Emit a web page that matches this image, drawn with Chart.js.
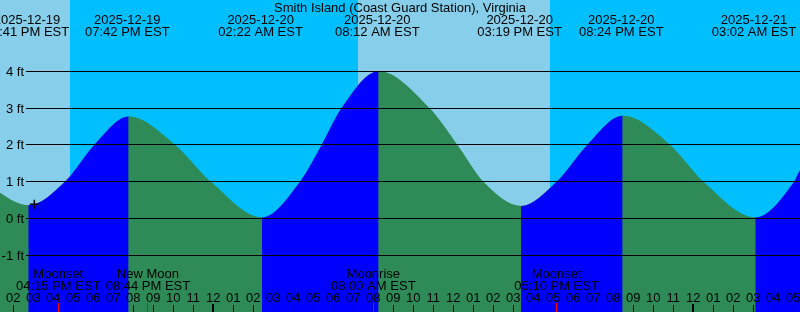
<!DOCTYPE html>
<html>
<head>
<meta charset="utf-8">
<script src="https://cdn.jsdelivr.net/npm/chart.js@4.4.1/dist/chart.umd.min.js"></script>
<style>
  html, body { margin: 0; padding: 0; background: #00bfff; overflow: hidden; }
  canvas { display: block; }
</style>
</head>
<body>
<canvas id="tide" width="800" height="312"></canvas>
<script>
const station = "Smith Island (Coast Guard Station), Virginia";

// tide curve (local time EST, height in ft)
const curveTimes = [
  "2025-12-19 07:30", "2025-12-19 13:20", "2025-12-19 14:45", "2025-12-19 16:35",
  "2025-12-19 18:03", "2025-12-19 19:46", "2025-12-19 22:05", "2025-12-19 23:52",
  "2025-12-20 02:26", "2025-12-20 04:20", "2025-12-20 05:25", "2025-12-20 06:25",
  "2025-12-20 08:16", "2025-12-20 10:48", "2025-12-20 12:12", "2025-12-20 13:30",
  "2025-12-20 15:23", "2025-12-20 17:10", "2025-12-20 18:42", "2025-12-20 20:28",
  "2025-12-20 22:50", "2025-12-21 00:30", "2025-12-21 03:06", "2025-12-21 05:02",
  "2025-12-21 05:20", "2025-12-21 09:00"
];
const curveFeet = [
  3.95, 0.70, 0.36, 1.0,
  2.0, 2.77, 2.0, 1.0,
  0.03, 1.0, 2.0, 3.0,
  4.0, 3.0, 2.0, 1.0,
  0.34, 1.0, 2.0, 2.79,
  2.0, 1.0, 0.03, 1.0,
  1.31, 4.0
];

// high / low labels along the top
const tideDates = ["2025-12-19", "2025-12-19", "2025-12-20", "2025-12-20", "2025-12-20", "2025-12-20", "2025-12-21"];
const tideClock = ["02:41 PM", "07:42 PM", "02:22 AM", "08:12 AM", "03:19 PM", "08:24 PM", "03:02 AM"];

// moon events along the bottom
const moonNames = ["Moonset", "New Moon", "Moonrise", "Moonset"];
const moonDates = ["2025-12-19", "2025-12-19", "2025-12-20", "2025-12-20"];
const moonClock = ["04:15 PM", "08:44 PM", "08:00 AM", "05:10 PM"];

// daylight
const sunrise = ["2025-12-19 07:14", "2025-12-20 07:14"];
const sunset = ["2025-12-19 16:50", "2025-12-20 16:50"];

const nowTime = "2025-12-19 15:03";
const nowFeet = 0.39;

const gridFeet = [-1, 0, 1, 2, 3, 4];

const NIGHT = "#00bfff";
const DAY = "#87ceeb";
const FLOOD = "#0000ff";
const EBB = "#2e8b57";
const FONT = '13px "Liberation Sans", Arial, sans-serif';

const T0 = Date.UTC(2025, 11, 20);
const toH = s => (Date.parse(s.replace(" ", "T") + ":00Z") - T0) / 36e5;
function clockH(date, clock) {
  let [hm, ap] = clock.split(" ");
  let [h, m] = hm.split(":").map(Number);
  if (ap === "PM" && h !== 12) h += 12;
  if (ap === "AM" && h === 12) h = 0;
  return toH(date + " " + String(h).padStart(2, "0") + ":" + String(m).padStart(2, "0"));
}

const X_MIN = -10.665, X_MAX = 29.335;
const Y_MIN = -2.541, Y_MAX = 5.9375;

const decor = {
  id: "decor",
  beforeDatasetsDraw(chart) {
    const { ctx, chartArea: a, scales: { x } } = chart;
    ctx.save();
    ctx.fillStyle = NIGHT;
    ctx.fillRect(a.left, a.top, a.width, a.height);
    ctx.fillStyle = DAY;
    sunrise.forEach((s, i) => {
      const l = Math.round(x.getPixelForValue(toH(s)));
      const r = Math.round(x.getPixelForValue(toH(sunset[i])));
      ctx.fillRect(l, a.top, r - l, a.height);
    });
    ctx.restore();
  },
  afterDatasetsDraw(chart) {
    const { ctx, chartArea: a, scales: { x, y } } = chart;
    ctx.save();
    ctx.font = FONT;
    ctx.fillStyle = "#000";
    ctx.strokeStyle = "#000";
    ctx.lineWidth = 1;

    // depth grid + labels
    gridFeet.forEach(v => {
      const py = Math.floor(y.getPixelForValue(v)) + 0.5;
      ctx.beginPath();
      ctx.moveTo(26, py);
      ctx.lineTo(a.right, py);
      ctx.stroke();
      ctx.textAlign = "right";
      ctx.fillText(v + " ft", 24, py + 4);
    });

    ctx.textAlign = "center";
    ctx.fillText(station, 400, 12);

    tideDates.forEach((d, i) => {
      const px = x.getPixelForValue(clockH(d, tideClock[i]));
      ctx.fillText(d, px, 24);
      ctx.fillText(tideClock[i] + " EST", px, 36);
    });

    moonNames.forEach((n, i) => {
      const px = x.getPixelForValue(clockH(moonDates[i], moonClock[i]));
      ctx.fillText(n, px, 278);
      ctx.fillText(moonClock[i] + " EST", px, 290);
    });

    // hour ticks
    for (let h = Math.ceil(X_MIN); h <= Math.floor(X_MAX); h++) {
      const px = x.getPixelForValue(h);
      const hod = ((h % 24) + 24) % 24;
      const lbl = String(hod % 12 || 12).padStart(2, "0");
      ctx.fillText(lbl, px, 302);
      if (hod === 0) ctx.fillRect(Math.round(px) - 1, 304, 2, 8);
      else ctx.fillRect(Math.floor(px), 305, 1, 7);
    }
    ctx.fillStyle = "#ff0000";
    moonNames.forEach((n, i) => {
      const px = x.getPixelForValue(clockH(moonDates[i], moonClock[i]));
      ctx.fillRect(Math.floor(px), 303, 1, 9);
    });
    ctx.restore();
  }
};

const tidePoints = curveTimes.map((t, i) => ({ x: toH(t), y: curveFeet[i] }));

new Chart(document.getElementById("tide"), {
  type: "line",
  data: {
    datasets: [
      {
        data: [{ x: toH(nowTime), y: nowFeet }],
        showLine: false,
        pointStyle: "cross",
        pointRadius: 4.5,
        pointBorderColor: "#000",
        pointBorderWidth: 1.5,
        order: 0
      },
      {
        data: tidePoints,
        fill: "start",
        backgroundColor: EBB,
        borderColor: "rgba(0,0,0,0)",
        borderWidth: 0,
        pointRadius: 0,
        cubicInterpolationMode: "monotone",
        segment: {
          backgroundColor: c => (c.p1.parsed.y > c.p0.parsed.y ? FLOOD : EBB)
        },
        order: 1
      },
      {
        // plain under-layer so segment joins show no seams
        data: tidePoints,
        fill: "start",
        backgroundColor: EBB,
        borderColor: "rgba(0,0,0,0)",
        borderWidth: 0,
        pointRadius: 0,
        cubicInterpolationMode: "monotone",
        order: 2
      }
    ]
  },
  options: {
    responsive: false,
    animation: false,
    devicePixelRatio: 1,
    events: [],
    layout: { padding: 0, autoPadding: false },
    plugins: { legend: { display: false }, tooltip: { enabled: false } },
    scales: {
      x: { type: "linear", min: X_MIN, max: X_MAX, display: false },
      y: { min: Y_MIN, max: Y_MAX, display: false }
    }
  },
  plugins: [decor]
});
</script>
</body>
</html>
